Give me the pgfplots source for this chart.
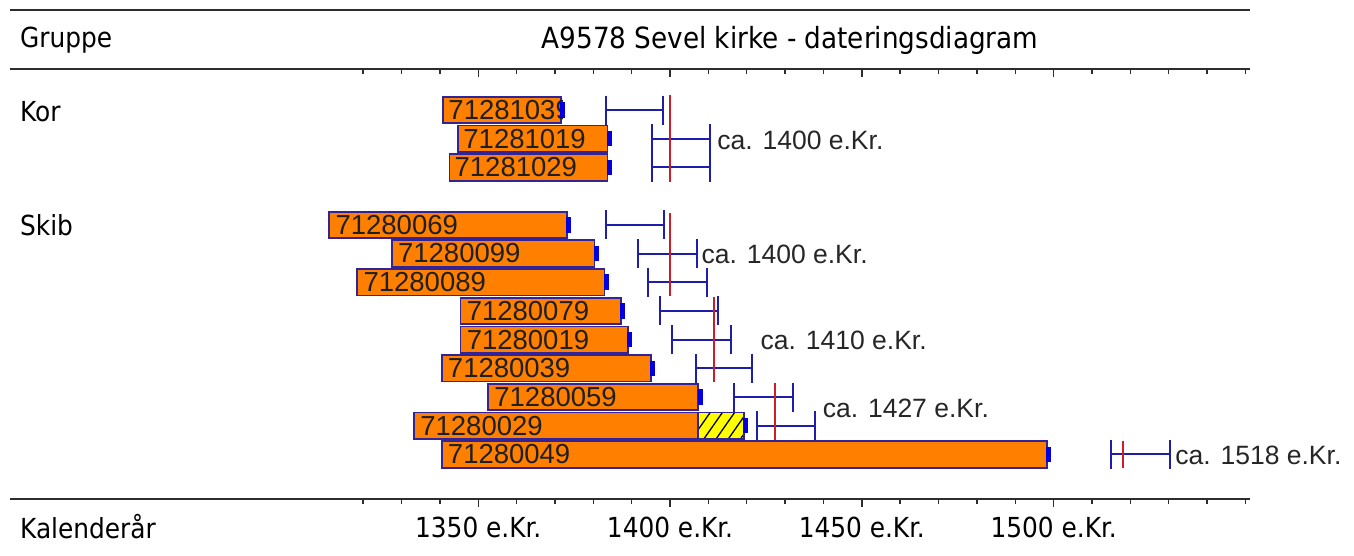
\documentclass[border=0pt]{standalone}
\usepackage{fontspec}
\usepackage{pgfplots}
\pgfplotsset{compat=1.18}
\usetikzlibrary{patterns.meta}
\newfontfamily\comic{DejaVu Sans Condensed}
\newfontfamily\lib{Liberation Sans}
\definecolor{barorange}{RGB}{255,128,0}
\definecolor{barborder}{RGB}{50,36,150}
\definecolor{capblue}{RGB}{0,0,225}
\definecolor{rangeblue}{RGB}{30,30,170}
\definecolor{datered}{RGB}{205,30,40}
\definecolor{framegray}{RGB}{45,45,45}
\definecolor{hatchyellow}{RGB}{255,255,0}
\tikzset{
  barst/.style={fill=barorange, draw=barborder, line width=1.8pt},
  capst/.style={fill=capblue, draw=none},
  barlbl/.style={anchor=west, inner sep=0pt, font=\lib\fontsize{27.5}{29}\selectfont, text=black!88},
  calbl/.style={anchor=west, inner sep=0pt, font=\lib\fontsize{26.5}{28}\selectfont, text=black!85},
  comictxt/.style={inner sep=0pt, font=\comic\fontsize{27.6}{30}\selectfont, text=black},
}
\begin{document}
\begin{tikzpicture}
\begin{axis}[
  scale only axis, width=1354pt, height=555pt,
  xmin=1225.34, xmax=1578.31, ymin=-3.833, ymax=15.505, y dir=reverse,
  hide axis, clip=false,
]
% frame lines
\addplot[framegray, line width=2.8pt] coordinates {(1227.9,-3.484) (1551.2,-3.484)};
\addplot[framegray, line width=2.8pt] coordinates {(1227.9,-1.429) (1551.2,-1.429)};
\addplot[framegray, line width=2.8pt] coordinates {(1227.9,13.554) (1551.2,13.554)};
% ticks
\addplot[only marks, mark=|, mark size=2.5pt, mark options={framegray, line width=1.4pt}] coordinates {
(1320,-1.34) (1330,-1.34) (1340,-1.34) (1360,-1.34) (1370,-1.34) (1380,-1.34) (1390,-1.34)
(1410,-1.34) (1420,-1.34) (1430,-1.34) (1440,-1.34) (1460,-1.34) (1470,-1.34) (1480,-1.34)
(1490,-1.34) (1510,-1.34) (1520,-1.34) (1530,-1.34) (1540,-1.34) (1550,-1.34)
(1320,13.643) (1330,13.643) (1340,13.643) (1360,13.643) (1370,13.643) (1380,13.643) (1390,13.643)
(1410,13.643) (1420,13.643) (1430,13.643) (1440,13.643) (1460,13.643) (1470,13.643) (1480,13.643)
(1490,13.643) (1510,13.643) (1520,13.643) (1530,13.643) (1540,13.643) (1550,13.643)};
\addplot[only marks, mark=|, mark size=4pt, mark options={framegray, line width=1.4pt}] coordinates {
(1350,-1.29) (1400,-1.29) (1450,-1.29) (1500,-1.29)
(1350,13.693) (1400,13.693) (1450,13.693) (1500,13.693)};
% bars
\addplot[barst] coordinates {(1340.9,-0.46) (1371.5,-0.46) (1371.5,0.46) (1340.9,0.46)} --cycle;
\addplot[barst] coordinates {(1344.8,0.54) (1383.7,0.54) (1383.7,1.46) (1344.8,1.46)} --cycle;
\addplot[barst] coordinates {(1342.5,1.54) (1383.7,1.54) (1383.7,2.46) (1342.5,2.46)} --cycle;
\addplot[barst] coordinates {(1311.2,3.54) (1373.1,3.54) (1373.1,4.46) (1311.2,4.46)} --cycle;
\addplot[barst] coordinates {(1327.5,4.54) (1380.3,4.54) (1380.3,5.46) (1327.5,5.46)} --cycle;
\addplot[barst] coordinates {(1318.5,5.54) (1382.9,5.54) (1382.9,6.46) (1318.5,6.46)} --cycle;
\addplot[barst] coordinates {(1345.4,6.54) (1387.2,6.54) (1387.2,7.46) (1345.4,7.46)} --cycle;
\addplot[barst] coordinates {(1345.4,7.54) (1389.1,7.54) (1389.1,8.46) (1345.4,8.46)} --cycle;
\addplot[barst] coordinates {(1340.5,8.54) (1395.0,8.54) (1395.0,9.46) (1340.5,9.46)} --cycle;
\addplot[barst] coordinates {(1352.6,9.54) (1407.4,9.54) (1407.4,10.46) (1352.6,10.46)} --cycle;
\addplot[barst] coordinates {(1333.3,10.54) (1407.4,10.54) (1407.4,11.46) (1333.3,11.46)} --cycle;
\addplot[barst] coordinates {(1340.5,11.54) (1498.3,11.54) (1498.3,12.46) (1340.5,12.46)} --cycle;
% hatched part
\addplot[fill=hatchyellow, draw=barborder, line width=1.8pt,
  postaction={pattern={Lines[angle=55, distance=10pt, line width=1.3pt]}, pattern color=black}]
  coordinates {(1407.4,10.54) (1419.3,10.54) (1419.3,11.46) (1407.4,11.46)} --cycle;
% bar labels
\begin{scope}
\clip (axis cs:1340.9,-0.5) rectangle (axis cs:1372.0,0.5);
\node[barlbl, xshift=5pt] at (axis cs:1340.9,0) {71281039};
\end{scope}
\node[barlbl, xshift=5pt] at (axis cs:1344.8,1) {71281019};
\node[barlbl, xshift=5pt] at (axis cs:1342.5,2) {71281029};
\node[barlbl, xshift=6pt] at (axis cs:1311.2,4) {71280069};
\node[barlbl, xshift=6pt] at (axis cs:1327.5,5) {71280099};
\node[barlbl, xshift=6pt] at (axis cs:1318.5,6) {71280089};
\node[barlbl, xshift=6pt] at (axis cs:1345.4,7) {71280079};
\node[barlbl, xshift=6pt] at (axis cs:1345.4,8) {71280019};
\node[barlbl, xshift=6pt] at (axis cs:1340.5,9) {71280039};
\node[barlbl, xshift=6pt] at (axis cs:1352.6,10) {71280059};
\node[barlbl, xshift=6pt] at (axis cs:1333.3,11) {71280029};
\node[barlbl, xshift=6pt] at (axis cs:1340.5,12) {71280049};
% caps
\addplot[capst] coordinates {(1371.3,-0.27) (1372.6,-0.27) (1372.6,0.27) (1371.3,0.27)} --cycle;
\addplot[capst] coordinates {(1383.5,0.73) (1384.8,0.73) (1384.8,1.27) (1383.5,1.27)} --cycle;
\addplot[capst] coordinates {(1383.5,1.73) (1384.8,1.73) (1384.8,2.27) (1383.5,2.27)} --cycle;
\addplot[capst] coordinates {(1372.9,3.73) (1374.2,3.73) (1374.2,4.27) (1372.9,4.27)} --cycle;
\addplot[capst] coordinates {(1380.1,4.73) (1381.4,4.73) (1381.4,5.27) (1380.1,5.27)} --cycle;
\addplot[capst] coordinates {(1382.7,5.73) (1384.0,5.73) (1384.0,6.27) (1382.7,6.27)} --cycle;
\addplot[capst] coordinates {(1387.0,6.73) (1388.3,6.73) (1388.3,7.27) (1387.0,7.27)} --cycle;
\addplot[capst] coordinates {(1388.9,7.73) (1390.2,7.73) (1390.2,8.27) (1388.9,8.27)} --cycle;
\addplot[capst] coordinates {(1394.8,8.73) (1396.1,8.73) (1396.1,9.27) (1394.8,9.27)} --cycle;
\addplot[capst] coordinates {(1407.2,9.73) (1408.5,9.73) (1408.5,10.27) (1407.2,10.27)} --cycle;
\addplot[capst] coordinates {(1419.1,10.73) (1420.4,10.73) (1420.4,11.27) (1419.1,11.27)} --cycle;
\addplot[capst] coordinates {(1498.1,11.73) (1499.4,11.73) (1499.4,12.27) (1498.1,12.27)} --cycle;
% dating ranges
\addplot[rangeblue, line width=2pt, mark=|, mark size=14.5pt, mark options={line width=2pt}, unbounded coords=jump] table {
x y
1383.3 0
1398.1 0
nan nan
1395.4 1
1410.4 1
nan nan
1395.4 2
1410.4 2
nan nan
1383.3 4
1398.5 4
nan nan
1391.7 5
1407.0 5
nan nan
1394.3 6
1409.6 6
nan nan
1397.4 7
1412.4 7
nan nan
1400.5 8
1415.8 8
nan nan
1406.8 9
1421.5 9
nan nan
1416.8 10
1432.0 10
nan nan
1422.6 11
1437.8 11
nan nan
1515.0 12
1530.4 12
};
% group dates
\addplot[datered, line width=1.8pt] coordinates {(1400,-0.52) (1400,2.51)};
\addplot[datered, line width=1.8pt] coordinates {(1400,3.59) (1400,6.48)};
\addplot[datered, line width=1.8pt] coordinates {(1411.5,6.52) (1411.5,9.47)};
\addplot[datered, line width=1.8pt] coordinates {(1427.4,9.5) (1427.4,11.5)};
\addplot[datered, line width=1.8pt] coordinates {(1518.0,11.52) (1518.0,12.48)};
% date labels
\node[calbl] at (axis cs:1412.3,1.05) {ca. 1400 e.Kr.};
\node[calbl] at (axis cs:1408.2,5.02) {ca. 1400 e.Kr.};
\node[calbl] at (axis cs:1423.6,8.03) {ca. 1410 e.Kr.};
\node[calbl] at (axis cs:1439.8,10.4) {ca. 1427 e.Kr.};
\node[calbl] at (axis cs:1531.7,12.02) {ca. 1518 e.Kr.};
% header / labels
\node[comictxt, anchor=west] at (axis cs:1230.55,-2.44) {Gruppe};
\node[comictxt, font=\comic\fontsize{29.2}{31}\selectfont] at (axis cs:1431.3,-2.44) {A9578 Sevel kirke - dateringsdiagram};
\node[comictxt, anchor=west] at (axis cs:1230.55,0.05) {Kor};
\node[comictxt, anchor=west] at (axis cs:1230.55,4.02) {Skib};
\node[comictxt, anchor=west] at (axis cs:1230.55,14.53) {Kalenderår};
\node[comictxt] at (axis cs:1350,14.53) {1350 e.Kr.};
\node[comictxt] at (axis cs:1400,14.53) {1400 e.Kr.};
\node[comictxt] at (axis cs:1450,14.53) {1450 e.Kr.};
\node[comictxt] at (axis cs:1500,14.53) {1500 e.Kr.};
\end{axis}
\pgfresetboundingbox
\path (current axis.south west) rectangle (current axis.north east);
\end{tikzpicture}
\end{document}
